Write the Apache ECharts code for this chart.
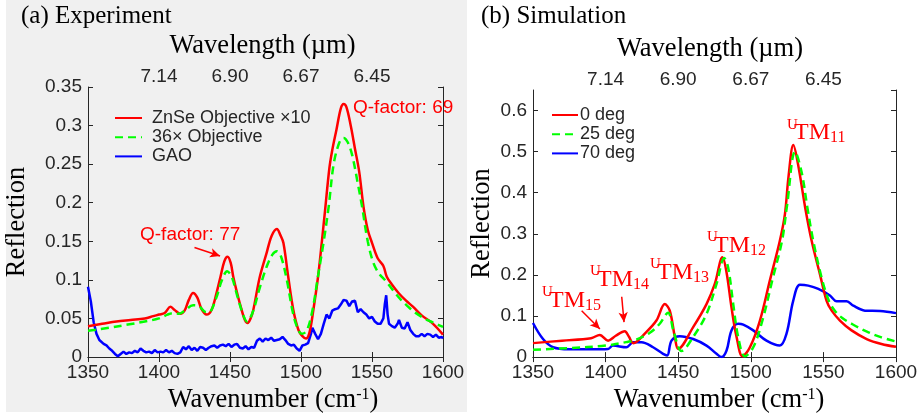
<!DOCTYPE html>
<html>
<head>
<meta charset="utf-8">
<script src="https://cdn.jsdelivr.net/npm/echarts/dist/echarts.min.js"></script>
<style>
  html, body { margin: 0; padding: 0; background: #ffffff; }
  #chart { width: 922px; height: 419px; }
</style>
</head>
<body>
<div id="chart"></div>
<script>
// ---- Wavenumber ticks and matching wavelength labels (top axis) ----
const wnTicks = [1350, 1400, 1450, 1500, 1550, 1600];
const topTickWavenumbers = [1400, 1450, 1500, 1550];
const topTickLabels = ['7.14', '6.90', '6.67', '6.45'];

// ---- (a) Experiment ----
const expRedWn = [1350, 1360, 1370, 1380, 1390, 1396, 1400, 1404, 1408, 1411, 1415, 1418, 1421, 1424, 1427, 1430, 1433.5, 1437, 1440.5, 1443.3, 1446, 1448.3, 1450.5, 1452.3, 1455, 1458.2, 1460.5, 1462.4, 1464.5, 1466.4, 1471, 1475.8, 1479.3, 1483, 1485.5, 1487.6, 1491, 1494.6, 1498.2, 1501, 1503.5, 1506, 1508.7, 1512, 1514.6, 1517, 1520, 1522, 1525, 1528, 1530, 1532, 1535, 1538, 1541, 1544, 1547, 1550, 1554, 1558, 1560.4, 1564, 1568.7, 1574, 1579, 1585, 1593, 1600];
const expRedVal = [0.040, 0.043, 0.046, 0.048, 0.050, 0.053, 0.055, 0.057, 0.065, 0.061, 0.056, 0.060, 0.074, 0.083, 0.077, 0.062, 0.055, 0.061, 0.083, 0.104, 0.124, 0.130, 0.122, 0.104, 0.083, 0.061, 0.048, 0.044, 0.050, 0.061, 0.104, 0.135, 0.157, 0.166, 0.158, 0.148, 0.104, 0.061, 0.035, 0.027, 0.024, 0.032, 0.061, 0.104, 0.148, 0.191, 0.245, 0.268, 0.295, 0.322, 0.328, 0.324, 0.300, 0.270, 0.240, 0.195, 0.165, 0.148, 0.128, 0.118, 0.104, 0.094, 0.083, 0.073, 0.065, 0.054, 0.043, 0.029];

const expGreenWn = [1350, 1365, 1378, 1390, 1400, 1406, 1410, 1414, 1418, 1424, 1428, 1432, 1435, 1440, 1444, 1448, 1451, 1455, 1459, 1462, 1466, 1471, 1476, 1480, 1483, 1486, 1490, 1494, 1497, 1500.5, 1504, 1508, 1512, 1516, 1519.5, 1523, 1527, 1530, 1533, 1536, 1540, 1543, 1547, 1551, 1555, 1560, 1565, 1570, 1575, 1580, 1585, 1590, 1595, 1600];
const expGreenVal = [0.034, 0.038, 0.042, 0.046, 0.050, 0.055, 0.057, 0.056, 0.060, 0.067, 0.066, 0.059, 0.058, 0.075, 0.098, 0.111, 0.105, 0.080, 0.056, 0.046, 0.058, 0.090, 0.118, 0.133, 0.137, 0.130, 0.100, 0.060, 0.040, 0.030, 0.034, 0.060, 0.105, 0.150, 0.195, 0.250, 0.278, 0.284, 0.278, 0.262, 0.225, 0.195, 0.150, 0.122, 0.108, 0.098, 0.086, 0.075, 0.066, 0.058, 0.052, 0.047, 0.043, 0.039];

const expBlueWn = [1350, 1352, 1354, 1356, 1358, 1361, 1363, 1365, 1367, 1369, 1371, 1373, 1375, 1377, 1379, 1381, 1383, 1385, 1387, 1389, 1391, 1393, 1395, 1397, 1399, 1401, 1403, 1405, 1407, 1409, 1411, 1413, 1415, 1417, 1419, 1421, 1423, 1425, 1427, 1429, 1431, 1433, 1435, 1437, 1439, 1441, 1443, 1445, 1447, 1449, 1451, 1453, 1455, 1457, 1459, 1461, 1463, 1465, 1467, 1469, 1471, 1473, 1475, 1477, 1479, 1481, 1483, 1485, 1487, 1489, 1491, 1493, 1495, 1497, 1499, 1501, 1503, 1505, 1507, 1508, 1510, 1512, 1514, 1516, 1518, 1520, 1522, 1524, 1526, 1528, 1530, 1532, 1534, 1536, 1538, 1540, 1542, 1544, 1546, 1548, 1550, 1552, 1554, 1556, 1558, 1559, 1560, 1561, 1562, 1564, 1566, 1568, 1569, 1571, 1573, 1575, 1577, 1579, 1581, 1583, 1585, 1587, 1589, 1591, 1593, 1595, 1597, 1599, 1600];
const expBlueVal = [0.091, 0.072, 0.045, 0.030, 0.022, 0.017, 0.015, 0.011, 0.008, 0.004, 0.001, 0.004, 0.007, 0.004, 0.006, 0.005, 0.008, 0.006, 0.011, 0.008, 0.006, 0.007, 0.005, 0.009, 0.006, 0.007, 0.006, 0.009, 0.006, 0.008, 0.005, 0.004, 0.006, 0.013, 0.010, 0.014, 0.009, 0.012, 0.008, 0.013, 0.012, 0.009, 0.012, 0.014, 0.015, 0.012, 0.015, 0.016, 0.014, 0.017, 0.013, 0.016, 0.017, 0.012, 0.011, 0.014, 0.010, 0.013, 0.012, 0.021, 0.024, 0.020, 0.024, 0.022, 0.025, 0.021, 0.022, 0.023, 0.026, 0.022, 0.017, 0.015, 0.016, 0.011, 0.008, 0.015, 0.016, 0.018, 0.030, 0.038, 0.030, 0.023, 0.030, 0.043, 0.055, 0.050, 0.060, 0.062, 0.063, 0.068, 0.074, 0.073, 0.066, 0.072, 0.073, 0.058, 0.062, 0.058, 0.055, 0.050, 0.052, 0.046, 0.043, 0.043, 0.050, 0.068, 0.080, 0.055, 0.043, 0.040, 0.038, 0.043, 0.048, 0.038, 0.037, 0.045, 0.035, 0.030, 0.027, 0.027, 0.030, 0.027, 0.030, 0.029, 0.026, 0.029, 0.025, 0.026, 0.024];

// ---- (b) Simulation ----
const simRedWn = [1350, 1370, 1390, 1396, 1401.7, 1407, 1413.2, 1416, 1419, 1428, 1435, 1440.8, 1444.2, 1447.7, 1450, 1460.3, 1469.5, 1475.2, 1480.5, 1483.3, 1486.7, 1490.2, 1494.3, 1499.4, 1506.3, 1513.1, 1520, 1523.5, 1526, 1529.3, 1532.5, 1537.5, 1541.9, 1547.6, 1552.2, 1555.7, 1561.4, 1569.4, 1579.8, 1590, 1600];
const simRedVal = [0.034, 0.040, 0.046, 0.054, 0.040, 0.052, 0.063, 0.050, 0.034, 0.061, 0.089, 0.129, 0.113, 0.049, 0.020, 0.073, 0.129, 0.178, 0.243, 0.206, 0.121, 0.049, 0.002, 0.024, 0.089, 0.186, 0.283, 0.348, 0.440, 0.516, 0.470, 0.363, 0.283, 0.202, 0.137, 0.113, 0.089, 0.065, 0.044, 0.032, 0.025];

const simGreenWn = [1350, 1375, 1400, 1415, 1420, 1430, 1437, 1443, 1447, 1452.3, 1460.3, 1469.5, 1476.4, 1481.7, 1484.4, 1487.9, 1491.3, 1495.9, 1501.7, 1508, 1515, 1521.5, 1525, 1530.5, 1535, 1539, 1543, 1549, 1554, 1558, 1563, 1570, 1580, 1590, 1600];
const simGreenVal = [0.018, 0.022, 0.028, 0.037, 0.041, 0.058, 0.080, 0.108, 0.060, 0.015, 0.049, 0.105, 0.178, 0.241, 0.218, 0.129, 0.049, 0.002, 0.024, 0.089, 0.190, 0.283, 0.370, 0.500, 0.450, 0.363, 0.283, 0.190, 0.135, 0.112, 0.095, 0.080, 0.062, 0.048, 0.038];

const simBlueWn = [1350, 1356.9, 1363.8, 1375, 1390, 1401.7, 1405, 1414.3, 1419, 1424.7, 1432.7, 1439.6, 1442.4, 1445.4, 1451.1, 1460.3, 1469.5, 1476.4, 1479.8, 1483.3, 1486.7, 1491.3, 1494.8, 1501.7, 1510.8, 1520, 1524.6, 1529.2, 1533.8, 1539.6, 1546.5, 1554.5, 1559.1, 1566, 1570.6, 1578.6, 1589, 1600];
const simBlueVal = [0.083, 0.044, 0.024, 0.019, 0.019, 0.020, 0.028, 0.024, 0.036, 0.036, 0.024, 0.008, 0.004, 0.040, 0.051, 0.044, 0.028, 0.008, 0.000, 0.016, 0.065, 0.081, 0.079, 0.065, 0.040, 0.028, 0.057, 0.137, 0.176, 0.174, 0.166, 0.150, 0.136, 0.136, 0.125, 0.113, 0.112, 0.107];

// ---- Annotation arrows (data coordinates) ----
const qArrow77 = [[1425, 0.142], [1443, 0.131]];
const arrowTM15 = [[1383.5, 0.113], [1396.1, 0.0685]];
const arrowTM14 = [[1411.1, 0.147], [1412.7, 0.085]];

const zip = (xs, ys) => xs.map((x, i) => [x, ys[i]]);

const INK = '#262626';
const SANS = "'Liberation Sans', Arial, Helvetica, sans-serif";
const SERIF = "'Liberation Serif', 'Times New Roman', serif";
const RED = '#ff0000', GREEN = '#00ff00', BLUE = '#0000ff';
const NAME_SIZE = 26.5;

function bottomAxis(gridIndex, shift) {
  return {
    type: 'value', gridIndex, position: 'bottom', min: 1350, max: 1600, interval: 50,
    name: 'Wavenumber (cm{sup|-1})', nameLocation: 'middle', nameGap: 28,
    nameTextStyle: { fontFamily: SERIF, fontSize: NAME_SIZE, color: '#000', padding: [0, 0, 0, shift],
      rich: { sup: { fontFamily: SERIF, fontSize: 16, color: '#000', verticalAlign: 'top', padding: [0, 0, 10, 0] } } },
    axisLine: { show: true, lineStyle: { color: INK, width: 1 } },
    axisTick: { show: true, inside: true, length: 5, lineStyle: { color: INK } },
    axisLabel: { fontFamily: SANS, fontSize: 19, color: INK, margin: 6, formatter: v => String(v) },
    splitLine: { show: false }
  };
}
function topAxis(gridIndex, shift) {
  return {
    type: 'value', gridIndex, position: 'top', min: 1350, max: 1600, interval: 50,
    name: 'Wavelength (µm)', nameLocation: 'middle', nameGap: 27,
    nameTextStyle: { fontFamily: SERIF, fontSize: NAME_SIZE, color: '#000', padding: [0, shift, 0, 0] },
    axisLine: { show: true, lineStyle: { color: INK, width: 1 } },
    axisTick: { show: true, inside: true, length: 5, lineStyle: { color: INK } },
    axisLabel: { fontFamily: SANS, fontSize: 19, color: INK, margin: 1,
      formatter: v => { const i = topTickWavenumbers.indexOf(v); return i >= 0 ? topTickLabels[i] : ''; } },
    splitLine: { show: false }
  };
}
function leftAxis(gridIndex, max, interval, nameGap) {
  return {
    type: 'value', gridIndex, position: 'left', min: 0, max, interval,
    name: 'Reflection', nameLocation: 'middle', nameGap,
    nameTextStyle: { fontFamily: SERIF, fontSize: NAME_SIZE, color: '#000' },
    axisLine: { show: true, lineStyle: { color: INK, width: 1 } },
    axisTick: { show: true, inside: true, length: 5, lineStyle: { color: INK } },
    axisLabel: { fontFamily: SANS, fontSize: 19, color: INK, margin: 6, showMaxLabel: interval === 0.05 },
    splitLine: { show: false }
  };
}
function rightAxis(gridIndex, max, interval) {
  return {
    type: 'value', gridIndex, position: 'right', min: 0, max, interval,
    axisLine: { show: true, lineStyle: { color: INK, width: 1 } },
    axisTick: { show: true, inside: true, length: 5, lineStyle: { color: INK } },
    axisLabel: { show: false },
    splitLine: { show: false }
  };
}
function arrowLine(seg) {
  return {
    silent: true, symbol: ['none', 'arrow'], symbolSize: [7, 10],
    label: { show: false },
    lineStyle: { color: RED, width: 1.5, type: 'solid' },
    data: seg.map(s => [{ coord: s[0] }, { coord: s[1] }])
  };
}
function lineSeries(name, data, color, xi, yi, extra) {
  return Object.assign({
    type: 'line', name, data, xAxisIndex: xi, yAxisIndex: yi,
    showSymbol: false, symbol: 'none', smooth: 0.35,
    lineStyle: { color, width: 2.5 }, itemStyle: { color },
    emphasis: { disabled: true }
  }, extra || {});
}

// Mode label: superscript U, TM, subscript index
function modeLabel(x, cy, idx) {
  const st = (text, size) => ({ text, fill: RED, font: `${size}px ${SERIF}`, verticalAlign: 'middle', align: 'left' });
  return [
    { type: 'text', x: x, y: cy - 8, style: st('U', 15), silent: true },
    { type: 'text', x: x + 7, y: cy, style: st('TM', 24), silent: true },
    { type: 'text', x: x + 43, y: cy + 5, style: st(idx, 16), silent: true }
  ];
}
function panelTitle(x, text) {
  return { type: 'text', x, y: 16, silent: true,
    style: { text, fill: '#000', font: `25px ${SERIF}`, verticalAlign: 'middle', align: 'left' } };
}

const chart = echarts.init(document.getElementById('chart'), null, { renderer: 'canvas' });

const legendBase = {
  orient: 'vertical', itemHeight: 16, itemGap: 1.2, padding: 0,
  itemStyle: { opacity: 0 }
};

const option = {
  animation: false,
  backgroundColor: '#ffffff',
  grid: [
    { left: 88, top: 87, width: 355, height: 270 },
    { left: 533, top: 90, width: 363, height: 270 }
  ],
  xAxis: [bottomAxis(0, 15), topAxis(0, 6), bottomAxis(1, 9), topAxis(1, 9)],
  yAxis: [leftAxis(0, 0.35, 0.05, 57), rightAxis(0, 0.35, 0.05), leftAxis(1, 0.65, 0.1, 37), rightAxis(1, 0.65, 0.1)],
  legend: [
    Object.assign({}, legendBase, {
      data: ['ZnSe Objective ×10', '36× Objective', 'GAO'],
      left: 114, top: 109, itemWidth: 27,
      textStyle: { fontFamily: SANS, fontSize: 18, color: INK, padding: [0, 0, 0, 5] } }),
    Object.assign({}, legendBase, {
      data: ['0 deg', '25 deg', '70 deg'],
      left: 551, top: 106, itemWidth: 26,
      textStyle: { fontFamily: SANS, fontSize: 18, color: INK, padding: [0, 0, 0, -3] } })
  ],
  series: [
    lineSeries('ZnSe Objective ×10', zip(expRedWn, expRedVal), RED, 0, 0,
      { z: 4, markLine: arrowLine([qArrow77]) }),
    lineSeries('36× Objective', zip(expGreenWn, expGreenVal), GREEN, 0, 0,
      { z: 5, lineStyle: { color: GREEN, width: 2.5, type: [8, 5] } }),
    lineSeries('GAO', zip(expBlueWn, expBlueVal), BLUE, 0, 0, { smooth: false, z: 3 }),
    lineSeries('0 deg', zip(simRedWn, simRedVal), RED, 2, 2,
      { z: 4, markLine: arrowLine([arrowTM15, arrowTM14]) }),
    lineSeries('25 deg', zip(simGreenWn, simGreenVal), GREEN, 2, 2,
      { z: 5, lineStyle: { color: GREEN, width: 2.5, type: [8, 5] } }),
    lineSeries('70 deg', zip(simBlueWn, simBlueVal), BLUE, 2, 2, { z: 3 })
  ],
  graphic: [
    { type: 'rect', z: -100, silent: true, shape: { x: 6, y: 0, width: 461, height: 412 },
      style: { fill: '#f0f0f0' } },
    panelTitle(21, '(a) Experiment'),
    panelTitle(481, '(b) Simulation'),
    { type: 'text', x: 353, y: 108, silent: true,
      style: { text: 'Q-factor: 69', fill: RED, font: `19px ${SANS}`, verticalAlign: 'middle' } },
    { type: 'text', x: 140, y: 235, silent: true,
      style: { text: 'Q-factor: 77', fill: RED, font: `19px ${SANS}`, verticalAlign: 'middle' } }
  ].concat(
    modeLabel(787, 133, '11'),
    modeLabel(707, 245.5, '12'),
    modeLabel(650, 272.5, '13'),
    modeLabel(590, 279.5, '14'),
    modeLabel(542, 300.5, '15')
  )
};

chart.setOption(option);
</script>
</body>
</html>
